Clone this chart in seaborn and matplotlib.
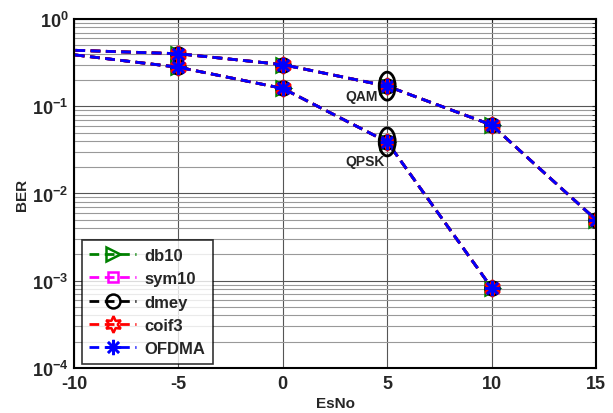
import numpy as np
import pandas as pd
import matplotlib
matplotlib.use("Agg")
import matplotlib.pyplot as plt
import seaborn as sns
from matplotlib.patches import Ellipse
from matplotlib.lines import Line2D
from matplotlib.ticker import FuncFormatter, LogLocator, NullFormatter

# ---- data ----
esno_qam = [-15, -5, 0, 5, 10, 15]
ber_qam = [0.48, 0.40, 0.30, 0.17, 0.061, 0.0050]
esno_qpsk = [-15, -5, 0, 5, 10]
ber_qpsk = [0.54, 0.28, 0.16, 0.039, 0.00083]
series = ["db10", "sym10", "dmey", "coif3", "OFDMA"]
colors = ["#008000", "#ff00ff", "#000000", "#ff0000", "#0000ff"]
markers = [">", "s", "o", (6, 1, 0), (8, 2, 0)]
msizes = [10, 7, 10, 12, 11]
xticks = [-10, -5, 0, 5, 10, 15]

rows = []
for s in series:
    for x, y in zip(esno_qam, ber_qam):
        rows.append((s, "QAM", x, y))
    for x, y in zip(esno_qpsk, ber_qpsk):
        rows.append((s, "QPSK", x, y))
df = pd.DataFrame(rows, columns=["wavelet", "mod", "EsNo", "BER"])

sns.set_style("white")
plt.rcParams["font.family"] = ["Liberation Sans", "DejaVu Sans"]
plt.rcParams["font.weight"] = "bold"
plt.rcParams["mathtext.fontset"] = "custom"
plt.rcParams["mathtext.rm"] = "Liberation Sans:bold"
plt.rcParams["mathtext.bf"] = "Liberation Sans:bold"
plt.rcParams["mathtext.it"] = "Liberation Sans:bold"

fig = plt.figure(figsize=(6.13, 4.14), dpi=100)
ax = fig.add_axes([0.1207, 0.1087, 0.8516, 0.843])

for s, c, m, ms in zip(series, colors, markers, msizes):
    face = c if s in ("dmey", "coif3") else "none"
    for mod in ["QAM", "QPSK"]:
        d = df[(df.wavelet == s) & (df["mod"] == mod)]
        sns.lineplot(data=d, x="EsNo", y="BER", ax=ax, color=c, linestyle="--",
                     linewidth=2, dashes=False, marker=m, markersize=ms, markerfacecolor=face,
                     markeredgecolor=c, markeredgewidth=1.8,
                     estimator=None, sort=False, legend=False)
for ln in ax.get_lines():
    ln.set_linestyle((0, (3.5, 2)))

ax.set_yscale("log")
ax.set_xlim(-10, 15)
ax.set_ylim(1e-4, 1)
ax.set_xticks(xticks)
ax.set_xticklabels([str(t) for t in xticks])
ax.yaxis.set_major_locator(LogLocator(base=10, numticks=10))
ax.yaxis.set_minor_locator(LogLocator(base=10, subs=np.arange(2, 10), numticks=20))
ax.yaxis.set_major_formatter(FuncFormatter(lambda v, p: r"$10^{%d}$" % int(round(np.log10(v)))))
ax.yaxis.set_minor_formatter(NullFormatter())

ax.grid(True, which="major", axis="both", color="#555555", linewidth=0.8)
ax.grid(True, which="minor", axis="y", color="#999999", linewidth=0.8)
ax.tick_params(direction="in", which="both", top=True, right=True, labelsize=13, length=3)
ax.tick_params(axis="x", pad=5)
ax.tick_params(axis="y", pad=4)
for lab in ax.get_xticklabels() + ax.get_yticklabels():
    lab.set_fontweight("bold")
for sp in ax.spines.values():
    sp.set_color("black")
    sp.set_linewidth(1.5)
    sp.set_visible(True)

ax.set_xlabel("EsNo", fontsize=11, fontweight="bold", labelpad=3)
ax.set_ylabel("BER", fontsize=11, fontweight="bold", labelpad=2)

# ellipses & annotations
for yv, lbl, xr, fac in [(0.17, "QAM", 4.55, 0.77), (0.039, "QPSK", 4.87, 0.61)]:
    px, py = ax.transAxes.inverted().transform(ax.transData.transform((5, yv)))
    e = Ellipse((px, py), 16 / 522, 28 / 349, transform=ax.transAxes,
                fill=False, edgecolor="black", linewidth=2, zorder=5)
    ax.add_patch(e)
    ax.text(xr, yv * fac, lbl, fontsize=10, fontweight="bold", ha="right", va="center")

handles = [Line2D([], [], color=c, linestyle=(0, (3.5, 2)), linewidth=2, marker=m,
                  markersize=ms, markerfacecolor="none", markeredgecolor=c,
                  markeredgewidth=1.8)
           for c, m, ms in zip(colors, markers, msizes)]
leg = ax.legend(handles, series, loc="lower left", bbox_to_anchor=(0.015, 0.012),
                fontsize=12, frameon=True, fancybox=False, edgecolor="black",
                handlelength=2.8, borderpad=0.45, labelspacing=0.5, handletextpad=0.5,
                borderaxespad=0)
leg.get_frame().set_linewidth(1.2)
for t in leg.get_texts():
    t.set_fontweight("bold")

fig.savefig("out.png", dpi=100, facecolor="white")
